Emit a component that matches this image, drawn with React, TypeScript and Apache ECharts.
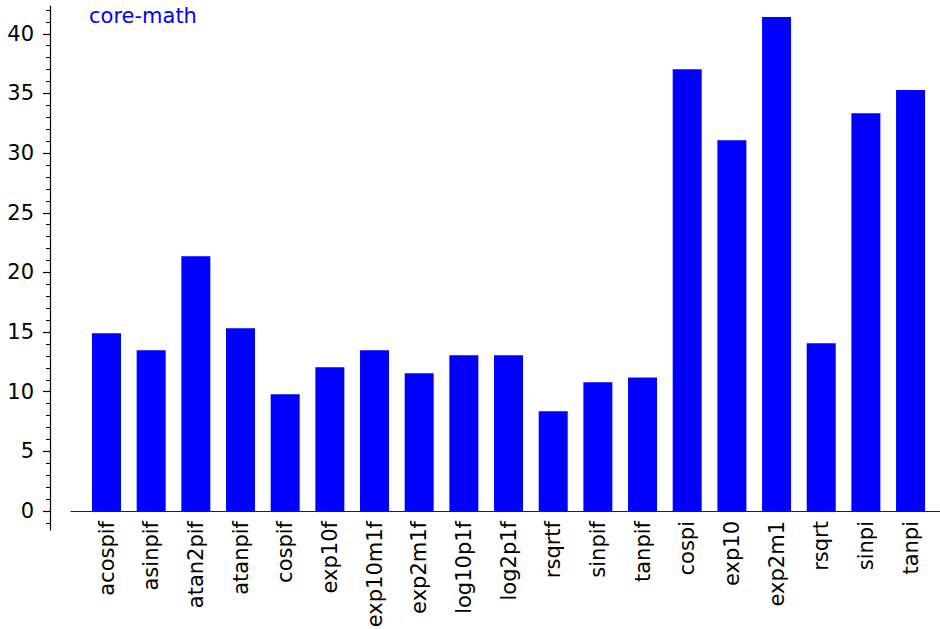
import React, { useEffect, useRef } from "react";
import * as echarts from "echarts";

// Functions benchmarked, in plotting order
const functions = [
  "acospif", "asinpif", "atan2pif", "atanpif", "cospif", "exp10f", "exp10m1f",
  "exp2m1f", "log10p1f", "log2p1f", "rsqrtf", "sinpif", "tanpif",
  "cospi", "exp10", "exp2m1", "rsqrt", "sinpi", "tanpi",
];

// core-math timings for each function
const coreMath = [
  14.9, 13.47, 21.35, 15.31, 9.78, 12.04, 13.47,
  11.54, 13.05, 13.05, 8.36, 10.79, 11.2,
  37.02, 31.07, 41.41, 14.06, 33.34, 35.29,
];

const seriesName = "core-math";

// Value axis ranges
const yLimits = [-1.59, 42.33];
const minorRange = [-1, 42];
const majorRange = [0, 40];

const W = 940;
const H = 629;
const ZERO_Y = 511;     // pixel row of value 0
const UNIT = 11.93;     // pixels per unit on the value axis
const AXIS_X = 50;      // x of the vertical axis line
const BAND = 44.67;     // width of one category band
const FIRST_CENTER = 106.5;
const FONT = "DejaVu Sans";

// grid top/bottom so that a value range lands on the shared scale
const vGrid = (lo: number, hi: number) => ({
  top: ZERO_Y - hi * UNIT,
  bottom: H - (ZERO_Y - lo * UNIT),
  containLabel: false,
  outerBoundsMode: "none",
});

export default function App() {
  const ref = useRef<HTMLDivElement>(null);

  useEffect(() => {
    if (!ref.current) return;
    const chart = echarts.init(ref.current, undefined, { renderer: "svg" });

    const plotLeft = FIRST_CENTER - BAND / 2;
    const plotRight = W - (plotLeft + BAND * functions.length);
    // category labels start 10px below the zero line (the grid bottom sits lower)
    const labelMargin = 10 + yLimits[0] * UNIT;

    chart.setOption({
      animation: false,
      backgroundColor: "#ffffff",
      legend: {
        data: [seriesName],
        icon: "none",
        itemWidth: 0,
        itemGap: 0,
        left: 84,
        top: 5,
        padding: 0,
        textStyle: { color: "#0000ff", fontSize: 21, fontFamily: FONT },
      },
      grid: [
        // bars + vertical axis line
        { left: plotLeft, right: plotRight, ...vGrid(yLimits[0], yLimits[1]) },
        // minor ticks
        { left: AXIS_X, right: 10, ...vGrid(minorRange[0], minorRange[1]) },
        // major ticks and labels
        { left: AXIS_X, right: 10, ...vGrid(majorRange[0], majorRange[1]) },
        // horizontal axis line at zero
        {
          left: 71,
          right: 0,
          top: 20,
          bottom: H - ZERO_Y,
          containLabel: false,
          outerBoundsMode: "none",
        },
      ],
      xAxis: [
        {
          type: "category",
          gridIndex: 0,
          data: functions,
          axisLine: { show: false, onZero: false },
          axisTick: { show: false },
          axisLabel: {
            rotate: 90,
            margin: labelMargin,
            interval: 0,
            color: "#000000",
            fontSize: 21,
            fontFamily: FONT,
          },
        },
        { type: "value", gridIndex: 1, show: false, min: 0, max: 1 },
        { type: "value", gridIndex: 2, show: false, min: 0, max: 1 },
        {
          type: "value",
          gridIndex: 3,
          min: 0,
          max: 1,
          axisLine: { show: true, lineStyle: { color: "#222222", width: 1.2 } },
          axisTick: { show: false },
          axisLabel: { show: false },
          splitLine: { show: false },
        },
      ],
      yAxis: [
        {
          type: "value",
          gridIndex: 0,
          min: yLimits[0],
          max: yLimits[1],
          offset: plotLeft - AXIS_X,
          axisLine: { show: true, lineStyle: { color: "#000000", width: 1.2 } },
          axisTick: { show: false },
          axisLabel: { show: false },
          splitLine: { show: false },
        },
        {
          type: "value",
          gridIndex: 1,
          min: minorRange[0],
          max: minorRange[1],
          interval: 1,
          axisLine: { show: false },
          axisTick: { show: true, length: 4, lineStyle: { color: "#000000", width: 1 } },
          axisLabel: { show: false },
          splitLine: { show: false },
        },
        {
          type: "value",
          gridIndex: 2,
          min: majorRange[0],
          max: majorRange[1],
          interval: 5,
          axisLine: { show: false },
          axisTick: { show: true, length: 7, lineStyle: { color: "#000000", width: 1.2 } },
          axisLabel: {
            margin: 16,
            color: "#000000",
            fontSize: 21,
            fontFamily: FONT,
          },
          splitLine: { show: false },
        },
        { type: "value", gridIndex: 3, show: false, min: 0, max: 1 },
      ],
      series: [
        {
          name: seriesName,
          type: "bar",
          xAxisIndex: 0,
          yAxisIndex: 0,
          data: coreMath,
          barWidth: 29,
          itemStyle: { color: "#0000ff" },
        },
      ],
    });

    return () => chart.dispose();
  }, []);

  return (
    <div
      ref={ref}
      style={{ position: "fixed", left: 0, top: 0, width: W, height: H }}
    />
  );
}
